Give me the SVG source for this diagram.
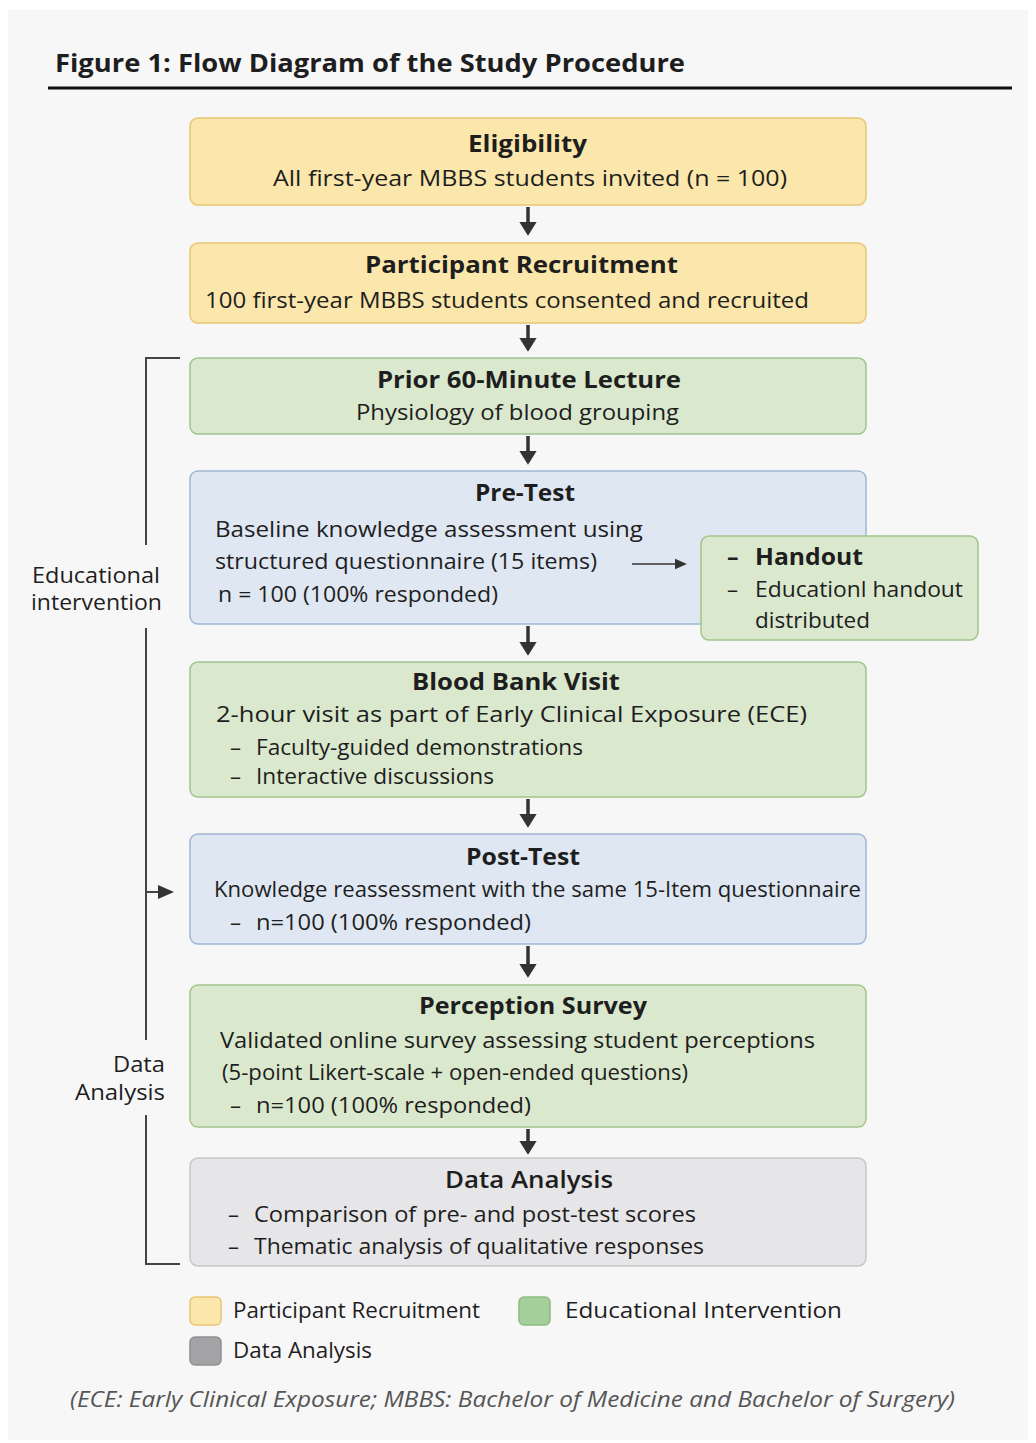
<svg xmlns="http://www.w3.org/2000/svg" width="1036" height="1443" viewBox="0 0 1036 1443">
<style>
text{font-family:"Open Sans","Noto Sans","DejaVu Sans",sans-serif;fill:#1e1e1e}
.t{font-size:24px;font-weight:700}
.b{font-size:22px}
.y{fill:#fbe7ab;stroke:#e6c673;stroke-width:1.5}
.g{fill:#dae8cd;stroke:#a3c38d;stroke-width:1.5}
.u{fill:#dfe7f2;stroke:#9fb6d3;stroke-width:1.5}
.k{fill:#e6e5e7;stroke:#c6c6c8;stroke-width:1.5}
.ln{stroke:#333;stroke-width:3.5;fill:none}
.br{stroke:#444;stroke-width:2;fill:none}
</style>
<defs>
<marker id="ah" markerWidth="5" markerHeight="5" refX="3.2" refY="2.5" orient="auto" markerUnits="strokeWidth">
<path d="M0,0 L4,2.5 L0,5 z" fill="#333"/>
</marker>
<marker id="ah2" markerWidth="8" markerHeight="8" refX="6" refY="4" orient="auto" markerUnits="strokeWidth">
<path d="M0,0.5 L8,4 L0,7.5 z" fill="#333"/>
</marker>
</defs>
<rect x="0" y="0" width="1036" height="1443" fill="#ffffff"/>
<rect x="8" y="10" width="1020" height="1430" fill="#f8f7f8"/>
<text x="55" y="72" textLength="630" lengthAdjust="spacingAndGlyphs" style="font-size:25px;font-weight:700">Figure 1: Flow Diagram of the Study Procedure</text>
<line x1="48" y1="88" x2="1012" y2="88" stroke="#111" stroke-width="3"/>

<g id="eligibility">
<rect class="y" x="190" y="118" width="676" height="87" rx="8"/>
<text class="t" x="468" y="152" textLength="119" lengthAdjust="spacingAndGlyphs">Eligibility</text>
<text class="b" x="273" y="186" textLength="514" lengthAdjust="spacingAndGlyphs">All first-year MBBS students invited (n = 100)</text>
</g>
<g id="recruitment">
<rect class="y" x="190" y="243" width="676" height="80" rx="8"/>
<text class="t" x="365" y="273" textLength="313" lengthAdjust="spacingAndGlyphs">Participant Recruitment</text>
<text class="b" x="205" y="308" textLength="604" lengthAdjust="spacingAndGlyphs">100 first-year MBBS students consented and recruited</text>
</g>
<g id="lecture">
<rect class="g" x="190" y="358" width="676" height="76" rx="8"/>
<text class="t" x="377" y="388" textLength="304" lengthAdjust="spacingAndGlyphs">Prior 60-Minute Lecture</text>
<text class="b" x="356" y="420" textLength="323" lengthAdjust="spacingAndGlyphs">Physiology of blood grouping</text>
</g>
<g id="pretest">
<rect class="u" x="190" y="471" width="676" height="153" rx="8"/>
<text class="t" x="475" y="501" textLength="100" lengthAdjust="spacingAndGlyphs">Pre-Test</text>
<text class="b" x="215" y="537" textLength="428" lengthAdjust="spacingAndGlyphs">Baseline knowledge assessment using</text>
<text class="b" x="215" y="569" textLength="382" lengthAdjust="spacingAndGlyphs">structured questionnaire (15 items)</text>
<text class="b" x="218" y="602" textLength="280" lengthAdjust="spacingAndGlyphs">n = 100 (100% responded)</text>
</g>
<g id="handout">
<rect class="g" x="701" y="536" width="277" height="104" rx="8"/>
<text x="727" y="565" style="font-size:23px;font-weight:700">–</text>
<text x="755" y="565" textLength="108" lengthAdjust="spacingAndGlyphs" style="font-size:23px;font-weight:700">Handout</text>
<text class="b" x="727" y="597">–</text>
<text class="b" x="755" y="597" textLength="208" lengthAdjust="spacingAndGlyphs">Educationl handout</text>
<text class="b" x="755" y="628" textLength="115" lengthAdjust="spacingAndGlyphs">distributed</text>
</g>
<g id="bloodbank">
<rect class="g" x="190" y="662" width="676" height="135" rx="8"/>
<text class="t" x="412" y="690" textLength="208" lengthAdjust="spacingAndGlyphs">Blood Bank Visit</text>
<text class="b" x="216" y="722" textLength="591" lengthAdjust="spacingAndGlyphs">2-hour visit as part of Early Clinical Exposure (ECE)</text>
<text class="b" x="230" y="755">–</text>
<text class="b" x="256" y="755" textLength="327" lengthAdjust="spacingAndGlyphs">Faculty-guided demonstrations</text>
<text class="b" x="230" y="784">–</text>
<text class="b" x="256" y="784" textLength="238" lengthAdjust="spacingAndGlyphs">Interactive discussions</text>
</g>
<g id="posttest">
<rect class="u" x="190" y="834" width="676" height="110" rx="8"/>
<text class="t" x="466" y="865" textLength="114" lengthAdjust="spacingAndGlyphs">Post-Test</text>
<text class="b" x="214" y="897" textLength="647" lengthAdjust="spacingAndGlyphs">Knowledge reassessment with the same 15-Item questionnaire</text>
<text class="b" x="230" y="930">–</text>
<text class="b" x="256" y="930" textLength="275" lengthAdjust="spacingAndGlyphs">n=100 (100% responded)</text>
</g>
<g id="perception">
<rect class="g" x="190" y="985" width="676" height="142" rx="8"/>
<text class="t" x="419" y="1014" textLength="228" lengthAdjust="spacingAndGlyphs">Perception Survey</text>
<text class="b" x="220" y="1048" textLength="595" lengthAdjust="spacingAndGlyphs">Validated online survey assessing student perceptions</text>
<text class="b" x="222" y="1080" textLength="466" lengthAdjust="spacingAndGlyphs">(5-point Likert-scale + open-ended questions)</text>
<text class="b" x="230" y="1113">–</text>
<text class="b" x="256" y="1113" textLength="275" lengthAdjust="spacingAndGlyphs">n=100 (100% responded)</text>
</g>
<g id="analysis">
<rect class="k" x="190" y="1158" width="676" height="108" rx="8"/>
<text class="t" x="445" y="1188" textLength="168" lengthAdjust="spacingAndGlyphs" style="font-weight:600">Data Analysis</text>
<text class="b" x="228" y="1222">–</text>
<text class="b" x="254" y="1222" textLength="442" lengthAdjust="spacingAndGlyphs">Comparison of pre- and post-test scores</text>
<text class="b" x="228" y="1254">–</text>
<text class="b" x="254" y="1254" textLength="450" lengthAdjust="spacingAndGlyphs">Thematic analysis of qualitative responses</text>
</g>
<g id="labels">
<text class="b" x="32" y="583" textLength="128" lengthAdjust="spacingAndGlyphs">Educational</text>
<text class="b" x="31" y="610" textLength="131" lengthAdjust="spacingAndGlyphs">intervention</text>
<text class="b" x="113" y="1072" textLength="52" lengthAdjust="spacingAndGlyphs">Data</text>
<text class="b" x="75" y="1100" textLength="90" lengthAdjust="spacingAndGlyphs">Analysis</text>
</g>
<g id="legend">
<rect x="190" y="1297" width="31" height="28" rx="5" fill="#fbe7ab" stroke="#e6c673" stroke-width="1.5"/>
<text class="b" x="233" y="1318" textLength="247" lengthAdjust="spacingAndGlyphs">Participant Recruitment</text>
<rect x="519" y="1297" width="31" height="28" rx="5" fill="#a5cf9a" stroke="#8dbb83" stroke-width="1.5"/>
<text class="b" x="565" y="1318" textLength="277" lengthAdjust="spacingAndGlyphs">Educational Intervention</text>
<rect x="190" y="1337" width="31" height="28" rx="5" fill="#a3a3a5" stroke="#909092" stroke-width="1.5"/>
<text class="b" x="233" y="1358" textLength="139" lengthAdjust="spacingAndGlyphs">Data Analysis</text>
</g>
<text x="70" y="1407" textLength="885" lengthAdjust="spacingAndGlyphs" style="font-size:21px;font-style:italic;fill:#555">(ECE: Early Clinical Exposure; MBBS: Bachelor of Medicine and Bachelor of Surgery)</text>

<g id="connectors">
<line class="ln" x1="528" y1="207" x2="528" y2="233" marker-end="url(#ah)"/>
<line class="ln" x1="528" y1="325" x2="528" y2="349" marker-end="url(#ah)"/>
<line class="ln" x1="528" y1="436" x2="528" y2="462" marker-end="url(#ah)"/>
<line class="ln" x1="528" y1="626" x2="528" y2="653" marker-end="url(#ah)"/>
<line class="ln" x1="528" y1="799" x2="528" y2="825" marker-end="url(#ah)"/>
<line class="ln" x1="528" y1="946" x2="528" y2="975" marker-end="url(#ah)"/>
<line class="ln" x1="528" y1="1129" x2="528" y2="1152" marker-end="url(#ah)"/>
<line x1="632" y1="564" x2="684" y2="564" stroke="#333" stroke-width="1.5" marker-end="url(#ah2)"/>
<path class="br" d="M180,358 H146 V545"/>
<path class="br" d="M146,628 V1040"/>
<path class="br" d="M146,1115 V1264 H180"/>
<line x1="146" y1="892" x2="170" y2="892" stroke="#444" stroke-width="2" marker-end="url(#ah2)"/>
</g>
</svg>
